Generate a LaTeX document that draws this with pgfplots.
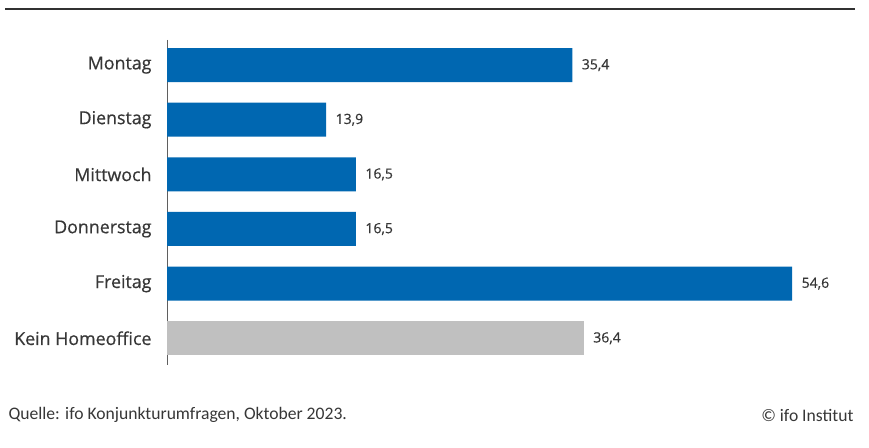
\documentclass[border=0pt]{standalone}
\usepackage{pgfplots}
\pgfplotsset{compat=1.18}
\usepackage{fontspec}
\setmainfont{Open Sans}[FakeBold=0.4]
\newfontfamily\labfont{Open Sans}[FakeBold=0.5]
\newfontfamily\footfont{Carlito}
\definecolor{ifoblue}{RGB}{0,103,177}
\definecolor{ifogrey}{RGB}{192,192,192}
\definecolor{txt}{RGB}{55,55,55}
\begin{document}
\begin{tikzpicture}
  \path[fill=white] (0pt,0pt) rectangle (869pt,447pt);
  \draw[line width=2pt, color=txt!90!black] (5pt,438pt) -- (855pt,438pt);
  \begin{axis}[
      at={(167pt,82pt)}, anchor=south west,
      scale only axis,
      width=687pt, height=325pt,
      xmin=0, xmax=60,
      ymin=-0.46, ymax=5.49,
      y dir=reverse,
      axis x line=none,
      axis y line*=left,
      y axis line style={color=txt!80, line width=1pt, -},
      ytick={0,1,2,3,4,5},
      yticklabels={Montag, Dienstag, Mittwoch, Donnerstag, Freitag, Kein Homeoffice},
      major tick length=0pt,
      yticklabel style={font=\labfont\fontsize{17.8}{20}\selectfont, color=txt, xshift=-12pt},
      xbar, bar width=34pt, bar shift=0pt,
      nodes near coords,
      nodes near coords align={horizontal},
      every node near coord/.append style={font=\labfont\fontsize{14}{17}\selectfont, color=txt, xshift=6pt},
      /pgf/number format/.cd, use comma, fixed, fixed zerofill, precision=1, assume math mode=true,
    ]
    \addplot[draw=none, fill=ifoblue] coordinates {
      (35.4,0) (13.9,1) (16.5,2) (16.5,3) (54.6,4)
    };
    \addplot[draw=none, fill=ifogrey] coordinates {
      (36.4,5)
    };
  \end{axis}
  \node[anchor=west, color=txt, font=\footfont\fontsize{17.6}{20}\selectfont] at (5pt,32pt) {Quelle: ifo Konjunkturumfragen, Oktober 2023.};
  \node[anchor=east, color=txt, font=\footfont\fontsize{17.6}{20}\selectfont] at (857pt,32pt) {© ifo Institut};
\end{tikzpicture}
\end{document}
